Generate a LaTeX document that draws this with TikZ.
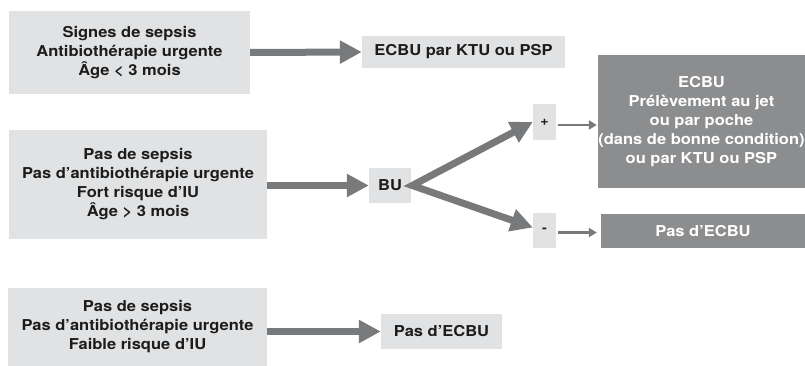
\documentclass[tikz,border=0pt]{standalone}
\usepackage{fontspec}
\setmainfont{TeX Gyre Heros}[FakeStretch=1.1]
\usetikzlibrary{arrows.meta,calc}
\definecolor{lightbox}{HTML}{E1E2E4}
\definecolor{darkbox}{HTML}{8C8D8F}
\definecolor{arrowgrey}{HTML}{78797B}
\definecolor{txt}{HTML}{1C1C1C}
\tikzset{
  lbox/.style={fill=lightbox, draw=none, inner sep=0pt, align=center, text=txt,
    font=\fontsize{15}{19}\selectfont\bfseries},
  dbox/.style={fill=darkbox, draw=none, inner sep=0pt, align=center, text=white,
    font=\fontsize{15}{19}\selectfont\bfseries},
  signbox/.style={fill=lightbox, draw=none, inner sep=0pt, text=txt,
    font=\fontsize{13}{14}\selectfont\bfseries},
  thick arrow/.style={draw=arrowgrey, line width=7pt,
    -{Triangle[length=22pt,width=22pt]}},
  thin arrow/.style={draw=arrowgrey, line width=2.5pt,
    -{Triangle[length=8pt,width=9pt]}},
}
\begin{document}
\begin{tikzpicture}[x=1pt,y=-1pt]
\useasboundingbox (0,0) rectangle (805,366);
% left boxes
\node[lbox, minimum width=241pt, minimum height=83pt] (b1) at (129.5,52.5)
  {Signes de sepsis\\Antibioth\'erapie urgente\\\^Age < 3 mois};
\node[lbox, minimum width=258pt, minimum height=109pt] (b2) at (138,184.5)
  {Pas de sepsis\\Pas d’antibioth\'erapie urgente\\Fort risque d’IU\\\^Age > 3 mois};
\node[lbox, minimum width=259pt, minimum height=78pt] (b3) at (137.5,327)
  {Pas de sepsis\\Pas d’antibioth\'erapie urgente\\Faible risque d’IU};
% middle boxes
\node[lbox, minimum width=203pt, minimum height=32pt] (e1) at (463.5,52)
  {ECBU par KTU ou PSP};
\node[lbox, minimum width=42pt, minimum height=35pt] (bu) at (390,185.5) {BU};
\node[lbox, minimum width=121pt, minimum height=35pt] (e3) at (441.5,331.5)
  {Pas d’ECBU};
% signs
\node[signbox, minimum width=23pt, minimum height=36pt] (plus) at (544.5,122) {+};
\node[signbox, minimum width=23pt, minimum height=35pt] (minus) at (544.5,230.5) {-};
% right dark boxes
\node[dbox, minimum width=207pt, minimum height=133pt] (big) at (701.5,121.5)
  {ECBU\\Pr\'el\`evement au jet\\ou par poche\\(dans de bonne condition)\\ou par KTU ou PSP};
\node[dbox, minimum width=204pt, minimum height=34pt] (noecbu) at (703,231)
  {Pas d’ECBU};
% connectors
\draw[thick arrow] (b1.east) -- (e1.west);
\draw[thick arrow] (b2.east |- bu.west) -- (bu.west);
\draw[thick arrow] (b3.east |- e3.west) -- (e3.west);
\draw[draw=arrowgrey, line width=7pt, line join=miter,
  {Triangle[length=22pt,width=22pt]}-{Triangle[length=22pt,width=22pt]}]
  (plus.west) -- ($(bu.east)+(1,0)$) -- ($(minus.west)+(0,-3)$);
\draw[thin arrow] ($(plus.east)+(2,3)$) -- ($(big.west |- plus.east)+(-1,3)$);
\draw[thin arrow] ($(minus.east)+(2,2)$) -- ($(noecbu.west |- minus.east)+(-4,2)$);
\end{tikzpicture}
\end{document}
